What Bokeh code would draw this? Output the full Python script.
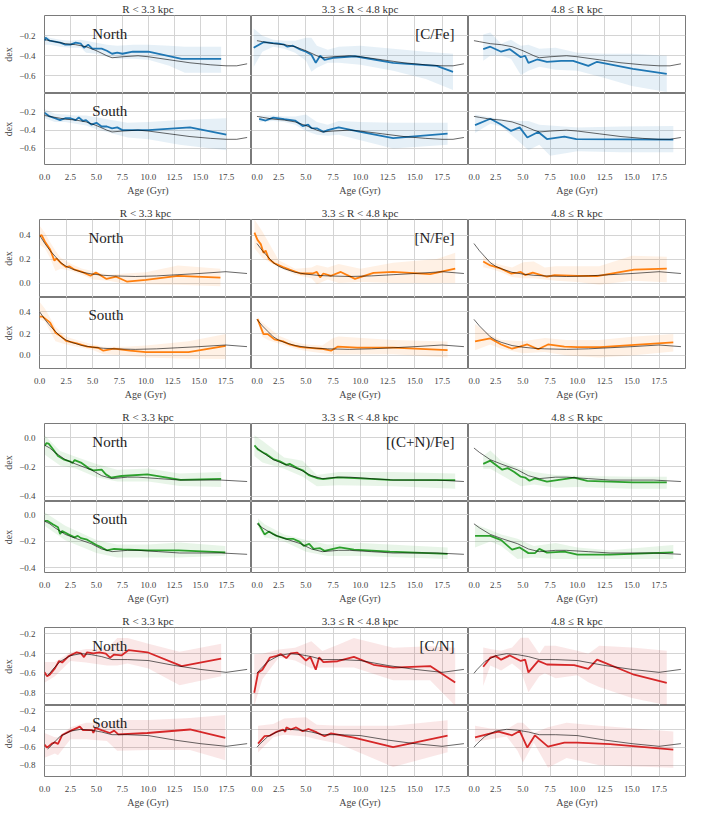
from bokeh.plotting import figure
from bokeh.layouts import column, row
from bokeh.models import FixedTicker, Range1d, Label, CustomJSTickFormatter
from bokeh.embed import file_html
from bokeh.resources import INLINE

FONT = "Liberation Serif"
AGE_MAX = 19.92
AGE_TICKS = [0.0, 2.5, 5.0, 7.5, 10.0, 12.5, 15.0, 17.5]
COLUMN_TITLES = ["R < 3.3 kpc", "3.3 ≤ R < 4.8 kpc", "4.8 ≤ R kpc"]
ROW_NAMES = ["North", "South"]
MODEL_START = [0.0, 0.5, 0.5]

# ---------------- [C/Fe] ----------------
CFE_MODEL_AGE = [0.0, 0.5, 1.0, 2.0, 3.0, 4.0, 5.0, 6.0, 6.5, 7.5, 9.0, 10.0, 12.0, 14.0, 16.0, 17.5, 18.5, 19.5]
CFE_MODEL_VAL = [-0.24, -0.25, -0.26, -0.28, -0.29, -0.31, -0.35, -0.40, -0.42, -0.41, -0.40, -0.41, -0.44, -0.47, -0.49, -0.50, -0.50, -0.48]

CFE_N0_AGE = [0.0, 0.1, 0.5, 1.0, 1.5, 2.0, 2.5, 3.0, 3.5, 3.8, 4.2, 4.6, 5.5, 6.0, 6.5, 7.0, 7.5, 8.5, 10.0, 13.2, 17.0]
CFE_N0_VAL = [-0.25, -0.22, -0.25, -0.26, -0.27, -0.29, -0.29, -0.27, -0.28, -0.32, -0.29, -0.33, -0.33, -0.35, -0.38, -0.37, -0.38, -0.36, -0.36, -0.43, -0.43]
CFE_N0_BAGE = [0.0, 0.5, 1.5, 2.5, 3.5, 4.0, 5.0, 6.0, 7.0, 8.5, 10.0, 12.0, 13.5, 17.0]
CFE_N0_BLO = [-0.29, -0.29, -0.31, -0.32, -0.32, -0.37, -0.38, -0.41, -0.43, -0.43, -0.44, -0.50, -0.57, -0.57]
CFE_N0_BHI = [-0.19, -0.22, -0.24, -0.25, -0.24, -0.25, -0.27, -0.29, -0.30, -0.29, -0.29, -0.30, -0.31, -0.31]

CFE_S0_AGE = [0.0, 0.5, 1.0, 1.5, 2.0, 2.5, 3.0, 3.3, 3.7, 4.0, 4.5, 5.0, 5.5, 6.0, 6.5, 7.0, 7.5, 10.0, 14.0, 17.5]
CFE_S0_VAL = [-0.21, -0.25, -0.27, -0.29, -0.27, -0.27, -0.29, -0.26, -0.30, -0.29, -0.34, -0.32, -0.36, -0.36, -0.38, -0.37, -0.40, -0.40, -0.37, -0.45]
CFE_S0_BAGE = [0.0, 1.0, 2.0, 3.0, 4.0, 5.0, 6.0, 7.0, 8.0, 10.0, 13.0, 17.5]
CFE_S0_BLO = [-0.27, -0.31, -0.31, -0.33, -0.35, -0.39, -0.42, -0.45, -0.48, -0.50, -0.56, -0.62]
CFE_S0_BHI = [-0.17, -0.22, -0.23, -0.24, -0.24, -0.26, -0.28, -0.30, -0.32, -0.31, -0.29, -0.27]

CFE_N1_AGE = [0.2, 1.1, 2.0, 2.5, 3.0, 3.3, 3.8, 4.5, 5.0, 5.5, 5.9, 6.3, 6.7, 7.5, 9.5, 13.0, 17.0, 18.5]
CFE_N1_VAL = [-0.32, -0.265, -0.275, -0.28, -0.29, -0.31, -0.30, -0.34, -0.36, -0.39, -0.47, -0.40, -0.44, -0.42, -0.405, -0.47, -0.50, -0.56]
CFE_N1_BAGE = [0.2, 1.0, 2.0, 3.0, 4.0, 5.0, 5.5, 6.0, 7.0, 8.0, 10.0, 13.0, 16.0, 18.5]
CFE_N1_BLO = [-0.51, -0.36, -0.31, -0.33, -0.37, -0.45, -0.56, -0.52, -0.47, -0.47, -0.49, -0.55, -0.63, -0.74]
CFE_N1_BHI = [-0.13, -0.20, -0.24, -0.25, -0.25, -0.22, -0.22, -0.30, -0.34, -0.31, -0.30, -0.33, -0.36, -0.38]

CFE_S1_AGE = [0.7, 1.3, 2.0, 3.0, 4.0, 4.7, 5.2, 5.5, 6.0, 6.6, 7.0, 8.0, 10.0, 13.0, 18.0]
CFE_S1_VAL = [-0.276, -0.295, -0.263, -0.28, -0.295, -0.355, -0.34, -0.377, -0.38, -0.418, -0.40, -0.37, -0.418, -0.487, -0.437]
CFE_S1_BAGE = [0.7, 2.0, 3.0, 4.0, 5.0, 6.0, 7.0, 8.0, 10.0, 13.0, 18.0]
CFE_S1_BLO = [-0.31, -0.30, -0.31, -0.34, -0.41, -0.45, -0.46, -0.45, -0.51, -0.60, -0.56]
CFE_S1_BHI = [-0.24, -0.24, -0.25, -0.25, -0.23, -0.31, -0.34, -0.30, -0.31, -0.32, -0.32]

CFE_N2_AGE = [1.35, 2.0, 3.0, 3.8, 4.8, 5.2, 5.5, 6.3, 7.2, 8.5, 9.6, 11.0, 11.8, 15.1, 18.2]
CFE_N2_VAL = [-0.335, -0.31, -0.36, -0.335, -0.415, -0.40, -0.47, -0.437, -0.46, -0.45, -0.45, -0.50, -0.46, -0.53, -0.58]
CFE_N2_BAGE = [1.35, 2.0, 3.0, 3.9, 4.8, 5.5, 6.5, 8.0, 10.0, 12.5, 15.0, 18.2]
CFE_N2_BLO = [-0.45, -0.40, -0.40, -0.43, -0.59, -0.55, -0.51, -0.54, -0.55, -0.62, -0.70, -0.76]
CFE_N2_BHI = [-0.19, -0.17, -0.28, -0.24, -0.30, -0.29, -0.33, -0.32, -0.37, -0.38, -0.38, -0.40]

CFE_S2_AGE = [0.6, 2.0, 2.9, 3.9, 4.7, 5.4, 6.4, 7.2, 8.8, 9.9, 18.8]
CFE_S2_VAL = [-0.345, -0.276, -0.333, -0.408, -0.37, -0.48, -0.42, -0.497, -0.47, -0.497, -0.503]
CFE_S2_BAGE = [0.6, 2.0, 3.0, 4.5, 5.5, 6.5, 7.5, 10.0, 14.0, 18.8]
CFE_S2_BLO = [-0.43, -0.33, -0.36, -0.51, -0.62, -0.56, -0.68, -0.63, -0.64, -0.64]
CFE_S2_BHI = [-0.23, -0.26, -0.28, -0.30, -0.30, -0.34, -0.35, -0.37, -0.36, -0.355]

# ---------------- [N/Fe] ----------------
NFE_MODEL_AGE = [0.0, 0.5, 1.0, 1.5, 2.0, 2.5, 3.0, 4.0, 5.0, 6.0, 7.0, 9.0, 11.0, 13.0, 15.0, 17.5, 19.5]
NFE_MODEL_VAL = [0.40, 0.33, 0.27, 0.22, 0.17, 0.14, 0.12, 0.09, 0.075, 0.065, 0.06, 0.055, 0.06, 0.07, 0.08, 0.095, 0.08]

NFE_N0_AGE = [0.0, 0.2, 0.5, 1.0, 1.4, 1.6, 2.0, 2.5, 2.8, 3.3, 4.0, 4.8, 5.3, 6.3, 7.2, 8.2, 10.0, 13.0, 17.0]
NFE_N0_VAL = [0.39, 0.40, 0.347, 0.28, 0.187, 0.205, 0.168, 0.133, 0.14, 0.112, 0.093, 0.061, 0.088, 0.035, 0.053, 0.013, 0.027, 0.061, 0.045]
NFE_N0_BAGE = [0.0, 0.5, 1.0, 1.5, 2.0, 3.0, 4.0, 5.0, 6.5, 8.0, 10.0, 13.0, 17.0]
NFE_N0_BLO = [0.32, 0.29, 0.21, 0.10, 0.12, 0.10, 0.07, 0.03, 0.02, -0.005, -0.01, -0.013, -0.027]
NFE_N0_BHI = [0.48, 0.42, 0.34, 0.27, 0.21, 0.16, 0.12, 0.10, 0.07, 0.08, 0.09, 0.147, 0.12]

NFE_S0_AGE = [0.0, 0.3, 1.0, 1.5, 2.0, 2.5, 3.5, 4.5, 5.5, 6.0, 7.0, 8.5, 10.0, 14.0, 17.5]
NFE_S0_VAL = [0.355, 0.355, 0.30, 0.208, 0.176, 0.133, 0.11, 0.08, 0.07, 0.043, 0.061, 0.043, 0.029, 0.029, 0.088]
NFE_S0_BAGE = [0.0, 0.5, 1.5, 2.5, 3.5, 5.0, 6.0, 8.0, 10.0, 14.0, 17.5]
NFE_S0_BLO = [0.33, 0.31, 0.13, 0.10, 0.08, 0.05, 0.01, 0.00, -0.02, -0.03, -0.032]
NFE_S0_BHI = [0.49, 0.43, 0.26, 0.17, 0.14, 0.10, 0.08, 0.08, 0.09, 0.13, 0.195]

NFE_N1_AGE = [0.27, 0.55, 0.85, 1.1, 1.3, 1.6, 2.1, 2.9, 3.5, 4.5, 5.6, 6.0, 6.3, 6.6, 7.3, 8.2, 9.5, 11.2, 13.0, 16.4, 18.7]
NFE_N1_VAL = [0.42, 0.36, 0.325, 0.253, 0.27, 0.20, 0.165, 0.133, 0.112, 0.08, 0.08, 0.093, 0.048, 0.08, 0.061, 0.093, 0.035, 0.085, 0.093, 0.075, 0.12]
NFE_N1_BAGE = [0.27, 1.0, 2.5, 4.0, 5.5, 6.0, 7.0, 8.0, 10.0, 13.0, 17.0, 18.7]
NFE_N1_BLO = [0.29, 0.21, 0.13, 0.07, 0.04, -0.01, 0.03, 0.0, 0.01, 0.0, 0.0, 0.0]
NFE_N1_BHI = [0.53, 0.43, 0.19, 0.12, 0.13, 0.15, 0.13, 0.16, 0.12, 0.17, 0.20, 0.253]

NFE_S1_AGE = [0.55, 1.1, 1.5, 2.1, 2.9, 3.5, 4.5, 5.6, 6.4, 7.3, 7.9, 9.7, 13.0, 18.0]
NFE_S1_VAL = [0.333, 0.195, 0.195, 0.147, 0.128, 0.10, 0.075, 0.067, 0.061, 0.043, 0.08, 0.072, 0.072, 0.048]
NFE_S1_BAGE = [0.55, 1.0, 1.5, 2.5, 4.0, 5.0, 6.5, 7.5, 8.0, 13.0, 18.0]
NFE_S1_BLO = [0.31, 0.17, 0.14, 0.11, 0.06, 0.04, 0.02, 0.01, 0.008, 0.01, -0.019]
NFE_S1_BHI = [0.35, 0.30, 0.26, 0.18, 0.12, 0.10, 0.09, 0.16, 0.173, 0.14, 0.128]

NFE_N2_AGE = [1.35, 2.0, 3.0, 3.9, 4.5, 4.8, 5.2, 5.9, 7.2, 7.9, 10.0, 11.8, 15.2, 18.2]
NFE_N2_VAL = [0.18, 0.147, 0.12, 0.08, 0.088, 0.093, 0.067, 0.088, 0.053, 0.067, 0.061, 0.059, 0.112, 0.12]
NFE_N2_BAGE = [1.35, 2.0, 3.0, 4.0, 5.0, 6.0, 7.0, 8.0, 10.0, 12.0, 15.0, 18.2]
NFE_N2_BLO = [0.133, 0.12, 0.09, 0.05, 0.04, 0.04, 0.03, 0.02, 0.01, -0.013, 0.02, 0.008]
NFE_N2_BHI = [0.227, 0.18, 0.15, 0.13, 0.173, 0.18, 0.13, 0.14, 0.14, 0.14, 0.227, 0.22]

NFE_S2_AGE = [0.6, 2.0, 3.0, 4.0, 4.7, 5.4, 6.4, 7.3, 8.8, 10.0, 12.1, 18.8]
NFE_S2_VAL = [0.128, 0.155, 0.10, 0.061, 0.08, 0.10, 0.056, 0.10, 0.08, 0.075, 0.075, 0.12]
NFE_S2_BAGE = [0.6, 2.0, 3.0, 5.0, 7.0, 9.0, 12.0, 15.0, 18.8]
NFE_S2_BLO = [0.048, 0.10, 0.06, 0.02, 0.03, 0.0, -0.019, 0.0, 0.035]
NFE_S2_BHI = [0.288, 0.19, 0.14, 0.13, 0.16, 0.14, 0.14, 0.17, 0.195]

# ---------------- [(C+N)/Fe] ----------------
CNFE_MODEL_AGE = [0.0, 0.5, 1.0, 2.0, 3.0, 4.5, 5.5, 6.5, 8.0, 9.0, 11.0, 13.0, 17.0, 19.5]
CNFE_MODEL_VAL = [-0.05, -0.07, -0.10, -0.15, -0.18, -0.22, -0.26, -0.28, -0.27, -0.27, -0.28, -0.29, -0.29, -0.30]

CNFE_N0_AGE = [0.0, 0.2, 0.4, 0.8, 1.3, 1.9, 2.5, 2.7, 2.9, 3.5, 4.0, 4.3, 4.7, 5.5, 5.9, 6.4, 7.4, 9.9, 13.1, 17.0]
CNFE_N0_VAL = [-0.055, -0.037, -0.04, -0.077, -0.125, -0.15, -0.164, -0.173, -0.153, -0.17, -0.195, -0.212, -0.223, -0.219, -0.251, -0.273, -0.262, -0.251, -0.289, -0.282]
CNFE_N0_BAGE = [0.0, 1.5, 3.0, 5.0, 7.0, 10.0, 13.0, 17.0]
CNFE_N0_BLO = [-0.114, -0.19, -0.21, -0.27, -0.30, -0.30, -0.33, -0.337]
CNFE_N0_BHI = [0.017, -0.09, -0.13, -0.18, -0.22, -0.21, -0.245, -0.234]

CNFE_S0_AGE = [0.0, 0.3, 0.8, 1.3, 1.5, 1.7, 2.3, 2.9, 3.2, 3.5, 4.1, 4.4, 5.0, 5.5, 6.0, 6.7, 7.5, 9.9, 12.9, 17.4]
CNFE_S0_VAL = [-0.048, -0.048, -0.074, -0.096, -0.146, -0.124, -0.15, -0.172, -0.161, -0.178, -0.19, -0.204, -0.23, -0.248, -0.27, -0.259, -0.263, -0.27, -0.27, -0.285]
CNFE_S0_BAGE = [0.0, 2.0, 5.0, 7.0, 10.0, 13.0, 17.4]
CNFE_S0_BLO = [-0.085, -0.194, -0.291, -0.324, -0.324, -0.324, -0.311]
CNFE_S0_BHI = [0.017, -0.085, -0.193, -0.226, -0.226, -0.211, -0.237]

CNFE_N1_AGE = [0.27, 0.6, 1.1, 1.4, 2.0, 2.6, 3.2, 3.5, 4.2, 4.7, 5.25, 6.1, 6.6, 7.9, 10.0, 12.7, 18.7]
CNFE_N1_VAL = [-0.052, -0.081, -0.103, -0.114, -0.146, -0.162, -0.186, -0.179, -0.208, -0.223, -0.256, -0.278, -0.284, -0.271, -0.278, -0.289, -0.291]
CNFE_N1_BAGE = [0.27, 1.0, 3.0, 4.7, 6.0, 8.0, 13.0, 18.7]
CNFE_N1_BLO = [-0.125, -0.17, -0.212, -0.267, -0.332, -0.326, -0.332, -0.35]
CNFE_N1_BHI = [0.017, -0.02, -0.135, -0.157, -0.256, -0.234, -0.234, -0.245]

CNFE_S1_AGE = [0.6, 1.2, 1.6, 2.3, 3.2, 3.8, 4.4, 4.8, 5.3, 5.7, 6.3, 6.7, 8.1, 9.4, 12.7, 18.0]
CNFE_S1_VAL = [-0.063, -0.15, -0.128, -0.161, -0.183, -0.183, -0.204, -0.237, -0.222, -0.259, -0.254, -0.274, -0.248, -0.265, -0.28, -0.296]
CNFE_S1_BAGE = [0.6, 1.2, 3.0, 5.0, 7.0, 10.0, 18.0]
CNFE_S1_BLO = [-0.096, -0.172, -0.204, -0.281, -0.313, -0.313, -0.335]
CNFE_S1_BHI = [-0.03, -0.074, -0.15, -0.193, -0.226, -0.215, -0.248]

CNFE_N2_AGE = [1.35, 2.0, 3.1, 3.6, 4.2, 4.8, 5.2, 5.6, 6.1, 7.2, 9.7, 10.9, 15.1, 18.2]
CNFE_N2_VAL = [-0.179, -0.157, -0.219, -0.208, -0.234, -0.267, -0.273, -0.295, -0.278, -0.30, -0.273, -0.295, -0.306, -0.306]
CNFE_N2_BAGE = [1.35, 2.0, 3.0, 4.8, 6.0, 8.0, 10.0, 15.0, 18.2]
CNFE_N2_BLO = [-0.212, -0.212, -0.256, -0.332, -0.321, -0.343, -0.337, -0.35, -0.35]
CNFE_N2_BHI = [-0.125, -0.087, -0.157, -0.212, -0.234, -0.256, -0.26, -0.267, -0.267]

CNFE_S2_AGE = [0.6, 2.0, 3.0, 4.0, 4.7, 5.5, 6.1, 6.5, 7.2, 8.8, 10.0, 13.0, 18.8]
CNFE_S2_VAL = [-0.161, -0.161, -0.193, -0.265, -0.248, -0.291, -0.291, -0.259, -0.287, -0.28, -0.302, -0.302, -0.285]
CNFE_S2_BAGE = [0.6, 2.0, 3.0, 4.5, 6.0, 8.0, 10.0, 13.0, 18.8]
CNFE_S2_BLO = [-0.248, -0.204, -0.237, -0.335, -0.324, -0.335, -0.335, -0.335, -0.335]
CNFE_S2_BHI = [-0.074, -0.117, -0.15, -0.183, -0.237, -0.215, -0.248, -0.27, -0.23]

# ---------------- [C/N] ----------------
CN_MODEL_AGE = [0.3, 0.5, 0.8, 1.5, 2.5, 3.5, 4.5, 5.5, 6.5, 8.0, 10.0, 12.5, 15.0, 17.5, 19.5]
CN_MODEL_VAL = [-0.62, -0.60, -0.56, -0.48, -0.42, -0.40, -0.41, -0.43, -0.46, -0.46, -0.47, -0.52, -0.56, -0.59, -0.56]

CN_N0_AGE = [0.0, 0.25, 0.5, 1.0, 1.4, 1.7, 2.3, 3.1, 3.5, 3.8, 4.1, 4.7, 5.3, 5.9, 6.3, 6.7, 7.4, 8.1, 9.9, 13.2, 17.0]
CN_N0_VAL = [-0.59, -0.63, -0.614, -0.55, -0.474, -0.49, -0.428, -0.386, -0.396, -0.435, -0.386, -0.396, -0.386, -0.40, -0.441, -0.409, -0.418, -0.363, -0.386, -0.526, -0.451]
CN_N0_BAGE = [0.0, 1.0, 2.5, 4.0, 6.0, 7.0, 8.0, 10.0, 13.0, 17.0]
CN_N0_BLO = [-0.696, -0.63, -0.475, -0.49, -0.52, -0.52, -0.50, -0.55, -0.72, -0.63]
CN_N0_BHI = [-0.484, -0.484, -0.386, -0.353, -0.353, -0.24, -0.24, -0.30, -0.38, -0.30]

CN_S0_AGE = [0.0, 0.25, 0.7, 1.0, 1.3, 1.7, 2.5, 3.1, 3.4, 3.7, 4.6, 4.7, 4.9, 5.5, 6.3, 6.7, 7.1, 9.9, 14.0, 17.4]
CN_S0_VAL = [-0.572, -0.604, -0.56, -0.546, -0.562, -0.464, -0.418, -0.386, -0.37, -0.409, -0.409, -0.441, -0.383, -0.409, -0.441, -0.415, -0.457, -0.441, -0.402, -0.496]
CN_S0_BAGE = [0.0, 1.0, 1.3, 2.5, 4.0, 6.0, 7.0, 10.0, 14.0, 17.4]
CN_S0_BLO = [-0.718, -0.67, -0.69, -0.51, -0.51, -0.53, -0.64, -0.63, -0.63, -0.745]
CN_S0_BHI = [-0.441, -0.49, -0.49, -0.376, -0.327, -0.327, -0.295, -0.295, -0.275, -0.24]

CN_N1_AGE = [0.25, 0.6, 1.0, 1.7, 2.3, 2.7, 3.2, 3.6, 4.2, 4.7, 5.0, 5.4, 5.9, 6.2, 6.6, 7.9, 9.4, 11.2, 13.0, 16.4, 18.7]
CN_N1_VAL = [-0.797, -0.595, -0.563, -0.439, -0.422, -0.405, -0.445, -0.396, -0.389, -0.438, -0.47, -0.432, -0.563, -0.438, -0.487, -0.477, -0.432, -0.513, -0.542, -0.526, -0.692]
CN_N1_BAGE = [0.25, 1.0, 2.5, 4.0, 5.5, 6.5, 8.0, 9.4, 13.0, 16.4, 18.7]
CN_N1_BLO = [-0.93, -0.66, -0.44, -0.47, -0.55, -0.54, -0.54, -0.54, -0.67, -0.67, -0.93]
CN_N1_BHI = [-0.405, -0.40, -0.357, -0.34, -0.275, -0.373, -0.308, -0.242, -0.34, -0.324, -0.34]

CN_S1_AGE = [0.6, 1.2, 1.7, 2.3, 2.9, 3.1, 3.2, 3.6, 4.1, 4.7, 5.25, 6.0, 6.7, 7.3, 9.4, 13.0, 18.0]
CN_S1_VAL = [-0.559, -0.477, -0.47, -0.428, -0.402, -0.428, -0.379, -0.402, -0.379, -0.422, -0.396, -0.435, -0.477, -0.445, -0.494, -0.598, -0.471]
CN_S1_BAGE = [0.6, 2.0, 3.0, 5.0, 6.0, 8.0, 13.0, 18.0]
CN_S1_BLO = [-0.66, -0.49, -0.46, -0.48, -0.51, -0.56, -0.82, -0.656]
CN_S1_BHI = [-0.36, -0.34, -0.28, -0.265, -0.35, -0.36, -0.36, -0.298]

CN_N2_AGE = [1.35, 2.0, 2.5, 3.0, 3.8, 4.8, 5.2, 5.5, 6.4, 7.2, 9.7, 11.0, 11.8, 15.2, 18.2]
CN_N2_VAL = [-0.533, -0.441, -0.425, -0.461, -0.418, -0.474, -0.461, -0.591, -0.474, -0.51, -0.516, -0.555, -0.461, -0.614, -0.696]
CN_N2_BAGE = [1.35, 2.0, 3.0, 4.0, 4.8, 5.5, 6.5, 7.0, 8.0, 10.0, 11.0, 12.0, 15.0, 18.2]
CN_N2_BLO = [-0.728, -0.52, -0.57, -0.50, -0.57, -0.793, -0.63, -0.60, -0.65, -0.62, -0.69, -0.74, -0.85, -0.924]
CN_N2_BHI = [-0.337, -0.353, -0.37, -0.337, -0.239, -0.239, -0.40, -0.32, -0.32, -0.37, -0.40, -0.32, -0.337, -0.37]

CN_S2_AGE = [0.6, 1.95, 2.75, 4.0, 4.7, 5.4, 6.1, 7.3, 8.8, 10.0, 13.0, 18.8]
CN_S2_VAL = [-0.49, -0.448, -0.425, -0.467, -0.418, -0.604, -0.467, -0.594, -0.549, -0.549, -0.565, -0.627]
CN_S2_BAGE = [0.6, 2.0, 3.5, 4.5, 5.0, 6.0, 7.3, 9.0, 12.0, 18.8]
CN_S2_BLO = [-0.54, -0.51, -0.48, -0.64, -0.77, -0.55, -0.83, -0.72, -0.80, -0.83]
CN_S2_BHI = [-0.36, -0.39, -0.40, -0.327, -0.327, -0.44, -0.376, -0.327, -0.36, -0.425]

GROUP_LABELS = ["[C/Fe]", "[N/Fe]", "[(C+N)/Fe]", "[C/N]"]
GROUP_COLORS = ["#1f77b4", "#ff7f0e", "#2ca02c", "#d62728"]
GROUP_YRANGES = [(-0.775, 0.0), (-0.12, 0.53), (-0.437, 0.098), (-0.927, -0.134)]
GROUP_YTICKS = [[-0.6, -0.4, -0.2], [0.0, 0.2, 0.4], [-0.4, -0.2, 0.0], [-0.8, -0.6, -0.4, -0.2]]

G = globals()
PREFIXES = ["CFE", "NFE", "CNFE", "CN"]

# layout sizes (px)
L_BORDER = 34
R_BORDER = 2
PW = 217
PH = 78
T_BORDER = 15
B_BORDER = 27
GAP = 6

FMT = CustomJSTickFormatter(code="""
const s = Math.abs(tick).toFixed(1);
return (tick < -1e-9 ? '\u2212' : '') + s;
""")


def make_panel(gi, ri, ci):
    pre = PREFIXES[gi]
    key = "%s_%s%d" % (pre, "NS"[ri], ci)
    age, val = G[key + "_AGE"], G[key + "_VAL"]
    bage, blo, bhi = G[key + "_BAGE"], G[key + "_BLO"], G[key + "_BHI"]
    mage_all, mval_all = G[pre + "_MODEL_AGE"], G[pre + "_MODEL_VAL"]
    mage = [a for a in mage_all if a >= MODEL_START[ci]]
    mval = [v for a, v in zip(mage_all, mval_all) if a >= MODEL_START[ci]]

    color = GROUP_COLORS[gi]
    y0, y1 = GROUP_YRANGES[gi]
    left = L_BORDER if ci == 0 else 0
    right = R_BORDER if ci == 2 else 0
    top = 0
    if ri == 0:
        top = T_BORDER + (GAP if gi > 0 else 0)
    bottom = B_BORDER if ri == 1 else 0

    p = figure(width=left + PW + right, height=top + PH + bottom,
               x_range=Range1d(0, AGE_MAX), y_range=Range1d(y0, y1),
               output_backend="svg", toolbar_location=None,
               min_border_left=left, min_border_right=right,
               min_border_top=top, min_border_bottom=bottom)
    p.background_fill_color = "white"
    p.border_fill_color = "white"
    p.outline_line_color = "#7a7a7a"
    p.outline_line_width = 1

    xt = FixedTicker(ticks=AGE_TICKS)
    yt = FixedTicker(ticks=GROUP_YTICKS[gi])
    p.xaxis.ticker = xt
    p.yaxis.ticker = yt
    p.xgrid.ticker = xt
    p.ygrid.ticker = yt
    p.xgrid.grid_line_color = "#d4d4d4"
    p.ygrid.grid_line_color = "#d4d4d4"
    p.xgrid.grid_line_width = 1
    p.ygrid.grid_line_width = 1

    for ax in (p.xaxis[0], p.yaxis[0]):
        ax.formatter = FMT
        ax.axis_line_color = None
        ax.major_tick_line_color = None
        ax.minor_tick_line_color = None
        ax.major_label_text_font = FONT
        ax.major_label_text_font_size = "9px"
        ax.major_label_text_color = "#444444"
        ax.major_label_standoff = 3
        ax.axis_label_text_font = FONT
        ax.axis_label_text_font_size = "10px"
        ax.axis_label_text_font_style = "normal"
        ax.axis_label_text_color = "#444444"
        ax.axis_label_standoff = 2

    if ri == 0:
        p.xaxis.visible = False
        p.title.text = COLUMN_TITLES[ci]
        p.title.align = "center"
        p.title.text_font = FONT
        p.title.text_font_size = "11px"
        p.title.text_font_style = "normal"
        p.title.text_color = "#333333"
        p.title.standoff = 1
        p.title.offset = 0
    else:
        p.xaxis.axis_label = "Age (Gyr)"
    if ci == 0:
        p.yaxis.axis_label = "dex"
    else:
        p.yaxis.visible = False

    p.varea(x=bage, y1=blo, y2=bhi, fill_color=color, fill_alpha=0.11)
    p.line(age, val, line_color=color, line_width=1.8)
    p.line(mage, mval, line_color="black", line_width=0.8, line_alpha=0.75)

    ytop = y1 - 10.0 / PH * (y1 - y0)
    if ci == 0:
        p.add_layout(Label(x=4.6, y=ytop, text=ROW_NAMES[ri], text_font=FONT,
                           text_font_size="15px", text_color="#222222",
                           text_baseline="top", text_align="left"))
    if ci == 1 and ri == 0:
        p.add_layout(Label(x=AGE_MAX * (1 - 14.0 / PW), y=ytop, text=GROUP_LABELS[gi],
                           text_font=FONT, text_font_size="15px", text_color="#222222",
                           text_baseline="top", text_align="right"))
    return p


rows = []
for gi in range(4):
    for ri in range(2):
        rows.append(row(*[make_panel(gi, ri, ci) for ci in range(3)], spacing=0))

layout = column(*rows, spacing=0)

open("out.html", "w").write(file_html(layout, INLINE))
